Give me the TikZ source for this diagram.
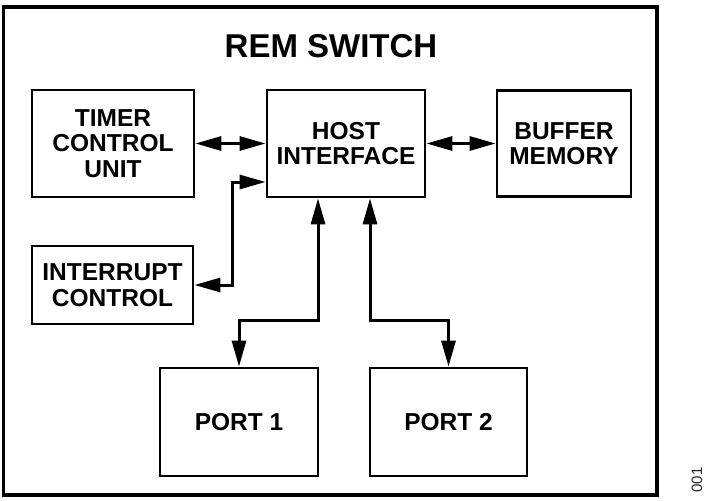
\documentclass[tikz,border=0pt]{standalone}
\usepackage{fontspec}
\setmainfont{Liberation Sans}
\usetikzlibrary{arrows.meta,calc}
\begin{document}
\begin{tikzpicture}[x=1pt,y=-1pt,
  blk/.style={draw,line width=2.8pt,inner sep=0pt,align=center,font=\fontsize{24.5}{25.5}\selectfont\bfseries},
  conn/.style={line width=3pt,{Triangle[length=26pt,width=14pt]}-{Triangle[length=26pt,width=14pt]}}]
\useasboundingbox (0,0) rectangle (708,500);
\draw[line width=3.4pt] (3.5,7) rectangle (657,495);
\node[font=\fontsize{33}{36}\selectfont\bfseries] (title) at (331,46) {REM SWITCH};
\node[blk,minimum width=162pt,minimum height=107pt] (timer) at (113,143.5) {TIMER\\CONTROL\\UNIT};
\node[blk,minimum width=158pt,minimum height=107pt] (host) at (346,143.5) {HOST\\INTERFACE};
\node[blk,minimum width=134pt,minimum height=106pt] (buffer) at (564,143.5) {BUFFER\\MEMORY};
\node[blk,minimum width=161pt,minimum height=78pt] (intr) at (112.5,285) {INTERRUPT\\CONTROL};
\node[blk,minimum width=158pt,minimum height=108pt] (port1) at (239,422) {PORT 1};
\node[blk,minimum width=157pt,minimum height=108pt] (port2) at (448.5,422) {PORT 2};
\node[font=\fontsize{15}{17}\selectfont,text=black!85,rotate=90] (fig) at (697,480) {001};
\coordinate (hin) at ($(host.west)+(0,38.5)$);
\coordinate (h1) at ($(host.south)+(-28,0)$);
\coordinate (h2) at ($(host.south)+(24,0)$);
\draw[conn] (timer) -- (host);
\draw[conn] (host) -- (buffer);
\draw[conn] (intr.east) -- ++(38,0) |- (hin);
\draw[conn] (h1) -- ++(0,122) -| (port1.north);
\draw[conn] (h2) -- ++(0,122) -| (port2.north);
\end{tikzpicture}
\end{document}
